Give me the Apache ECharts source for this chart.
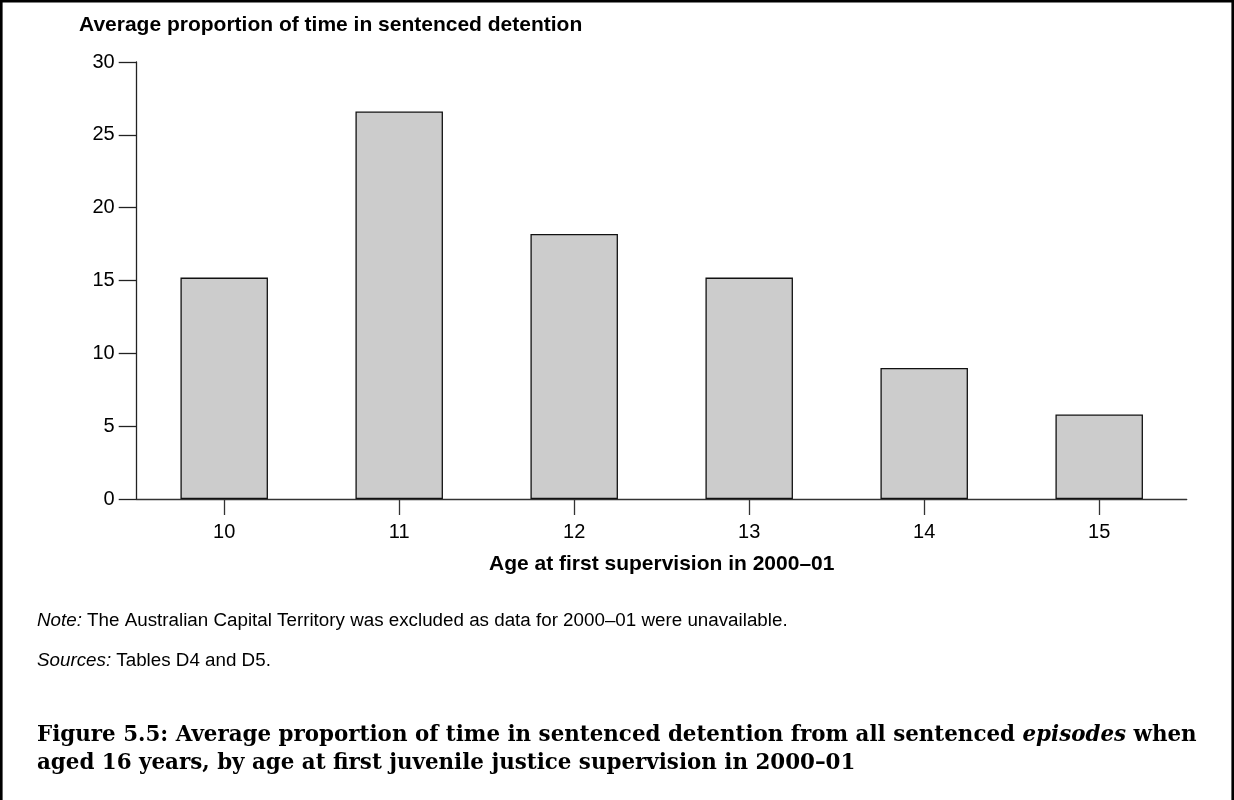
<!DOCTYPE html>
<html>
<head>
<meta charset="utf-8">
<script src="https://cdn.jsdelivr.net/npm/echarts@6/dist/echarts.min.js"></script>
<style>
html,body{margin:0;padding:0;background:#fff;}
#chart{width:1234px;height:800px;}
</style>
</head>
<body>
<div id="chart"></div>
<script>
var categories = ['10', '11', '12', '13', '14', '15'];
var values = [15.2, 26.6, 18.2, 15.2, 9.0, 5.8];
var yTicks = [0, 5, 10, 15, 20, 25, 30];

var yTitle = 'Average proportion of time in sentenced detention';
var xTitle = 'Age at first supervision in 2000\u201301';
var noteText = 'The Australian Capital Territory was excluded as data for 2000\u201301 were unavailable.';
var sourcesText = 'Tables D4 and D5.';
var captionA = 'Figure 5.5: Average proportion of time in sentenced detention from all sentenced ';
var captionItalic = 'episodes';
var captionB = ' when';
var captionLine2 = 'aged 16 years, by age at first juvenile justice supervision in 2000\u201301';

var sans = '"Liberation Sans", Arial, sans-serif';
var serif = '"DejaVu Serif", serif';
var noteSize = 18.8;
var capSize = 21.4;

var chart = echarts.init(document.getElementById('chart'), null, {renderer: 'canvas'});
chart.setOption({
  backgroundColor: '#fff',
  animation: false,
  title: [
    {
      text: yTitle, left: 79, top: 15, padding: 0,
      textStyle: {fontFamily: sans, fontWeight: 'bold', fontSize: 21, color: '#000'}
    },
    {
      text: '{i|Note:}{n| ' + noteText + '}', left: 37, top: 611, padding: 0,
      textStyle: {
        fontFamily: sans, fontSize: noteSize, fontWeight: 'normal', color: '#000',
        rich: {
          i: {fontFamily: sans, fontSize: noteSize, fontWeight: 'normal', fontStyle: 'italic', color: '#000'},
          n: {fontFamily: sans, fontSize: noteSize, fontWeight: 'normal', color: '#000'}
        }
      }
    },
    {
      text: '{i|Sources:}{n| ' + sourcesText + '}', left: 37, top: 651, padding: 0,
      textStyle: {
        fontFamily: sans, fontSize: noteSize, fontWeight: 'normal', color: '#000',
        rich: {
          i: {fontFamily: sans, fontSize: noteSize, fontWeight: 'normal', fontStyle: 'italic', color: '#000'},
          n: {fontFamily: sans, fontSize: noteSize, fontWeight: 'normal', color: '#000'}
        }
      }
    },
    {
      text: '{b|' + captionA + '}{i|' + captionItalic + '}{b|' + captionB + '}\n{b|' + captionLine2 + '}',
      left: 37, top: 722, padding: 0,
      textStyle: {
        fontFamily: serif, fontSize: capSize, fontWeight: 'bold', color: '#000', lineHeight: 27.3,
        rich: {
          b: {fontFamily: serif, fontSize: capSize, fontWeight: 'bold', color: '#000', lineHeight: 27.3},
          i: {fontFamily: serif, fontSize: capSize, fontWeight: 'bold', fontStyle: 'italic', color: '#000', lineHeight: 27.3}
        }
      }
    }
  ],
  grid: {left: 136.7, right: 47.3, top: 62, bottom: 301, containLabel: false},
  xAxis: {
    type: 'category',
    data: categories,
    name: xTitle,
    nameLocation: 'middle',
    nameGap: 55,
    nameTextStyle: {fontFamily: sans, fontWeight: 'bold', fontSize: 21, color: '#000'},
    axisLine: {lineStyle: {color: '#333', width: 1.3}},
    axisTick: {show: true, alignWithLabel: true, length: 16, lineStyle: {color: '#333', width: 1.3}},
    axisLabel: {fontFamily: sans, fontSize: 20, color: '#000', margin: 23}
  },
  yAxis: {
    type: 'value',
    min: yTicks[0],
    max: yTicks[yTicks.length - 1],
    interval: yTicks[1] - yTicks[0],
    axisLine: {show: true, lineStyle: {color: '#222', width: 1.3}},
    axisTick: {show: true, length: 18, lineStyle: {color: '#222', width: 1.3}},
    axisLabel: {fontFamily: sans, fontSize: 20, color: '#000', margin: 22},
    splitLine: {show: false}
  },
  series: [{
    type: 'bar',
    data: values,
    barWidth: '50%',
    itemStyle: {color: '#cccccc', borderColor: '#111', borderWidth: 1.3}
  }],
  graphic: [{
    type: 'polyline',
    shape: {points: [[1.3, 800], [1.3, 1.3], [1232.7, 1.3], [1232.7, 800]]},
    style: {stroke: '#000', lineWidth: 2.6, fill: null},
    silent: true
  }]
});
</script>
</body>
</html>
